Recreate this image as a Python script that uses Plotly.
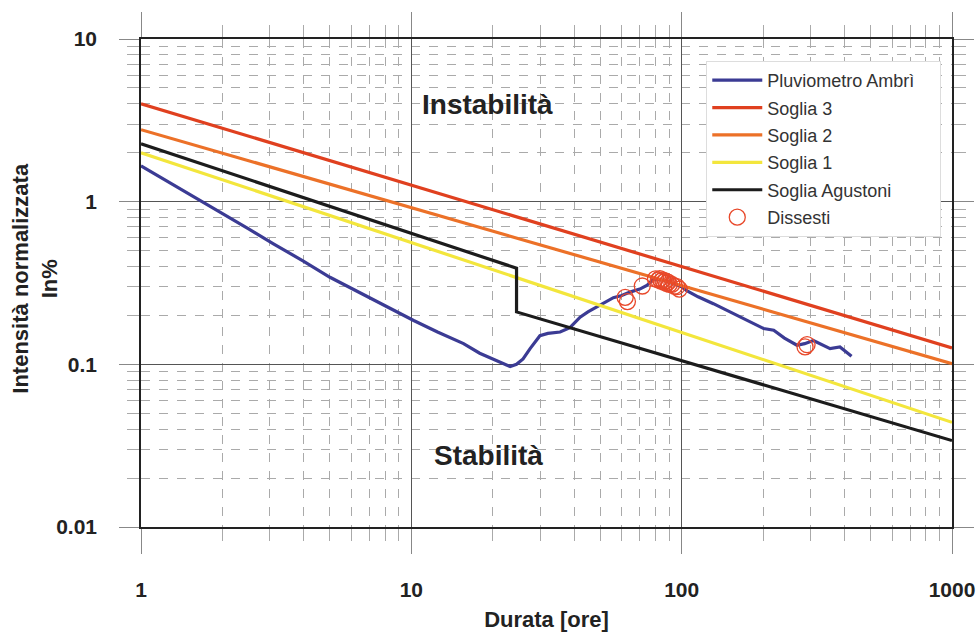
import plotly.graph_objects as go

# ---- data ----
pluvio_x = [1, 1.3, 1.6, 2.07, 2.5, 3.09, 4, 5, 6.5, 8, 10.2, 12.5, 15.6, 17.9, 20, 23.2,
            24.5, 25.9, 27.5, 29.9, 32, 35.5, 38.6, 42.1, 45, 48.5, 52, 55.9, 60, 64.4, 70,
            74.3, 78.6, 85, 92, 100, 104.4, 115, 131, 155, 180, 201, 219, 240, 267, 285,
            307, 330, 354, 385, 425]
pluvio_y = [1.66, 1.29, 1.05, 0.82, 0.68, 0.55, 0.43, 0.343, 0.273, 0.229, 0.186, 0.158,
            0.134, 0.117, 0.108, 0.097, 0.1, 0.108, 0.125, 0.15, 0.155, 0.158, 0.168, 0.195,
            0.21, 0.225, 0.24, 0.257, 0.265, 0.278, 0.29, 0.305, 0.335, 0.33, 0.315, 0.30,
            0.284, 0.26, 0.236, 0.205, 0.18, 0.166, 0.162, 0.145, 0.131, 0.134, 0.140,
            0.132, 0.125, 0.128, 0.112]

soglia3_x = [1, 1000]
soglia3_y = [4.0, 0.126]
soglia2_x = [1, 1000]
soglia2_y = [2.77, 0.101]
soglia1_x = [1, 1000]
soglia1_y = [2.0, 0.044]
agustoni_x = [1, 24.5, 24.5, 1000]
agustoni_y = [2.27, 0.39, 0.21, 0.034]

dissesti_x = [61.8, 63, 71.5, 80, 82, 83, 84, 85, 86, 87, 88, 89, 90, 92, 94, 96, 98, 286, 291]
dissesti_y = [0.258, 0.243, 0.303, 0.335, 0.33, 0.336, 0.325, 0.33, 0.32, 0.326, 0.315,
              0.32, 0.31, 0.31, 0.302, 0.30, 0.29, 0.128, 0.132]

x_ticks = [1, 10, 100, 1000]
x_tick_labels = ["1", "10", "100", "1000"]
y_ticks = [0.01, 0.1, 1, 10]
y_tick_labels = ["0.01", "0.1", "1", "10"]
x_minor = [m * d for d in (1, 10, 100) for m in range(2, 10)]
y_minor = [m * d for d in (0.01, 0.1, 1) for m in range(2, 10)]

FONT = "Liberation Sans, Arial, sans-serif"

fig = go.Figure()
lw = 3.2
fig.add_trace(go.Scatter(x=pluvio_x, y=pluvio_y, mode="lines",
                         name="Pluviometro Ambrì\u00a0\u00a0\u00a0\u00a0",
                         line=dict(color="#3b3b94", width=lw), legendgroup="a"))
fig.add_trace(go.Scatter(x=soglia3_x, y=soglia3_y, mode="lines", name="Soglia 3",
                         line=dict(color="#e0401f", width=lw), legendgroup="b"))
fig.add_trace(go.Scatter(x=soglia2_x, y=soglia2_y, mode="lines", name="Soglia 2",
                         line=dict(color="#ec7128", width=lw), legendgroup="c"))
fig.add_trace(go.Scatter(x=soglia1_x, y=soglia1_y, mode="lines", name="Soglia 1",
                         line=dict(color="#f3e63c", width=lw), legendgroup="d"))
fig.add_trace(go.Scatter(x=agustoni_x, y=agustoni_y, mode="lines", name="Soglia Agustoni",
                         line=dict(color="#1c1c1c", width=lw), legendgroup="e"))
fig.add_trace(go.Scatter(x=dissesti_x, y=dissesti_y, mode="markers", name="Dissesti",
                         marker=dict(symbol="circle-open", size=16, color="#e8482a",
                                     line=dict(width=1.3, color="#e8482a")),
                         legendgroup="f"))

TICKFONT = dict(family=FONT, size=21, color="#222", weight="bold")
axis_common = dict(
    type="log", automargin=False,
    showline=True, mirror="allticks", linecolor="#222", linewidth=1.5,
    showgrid=True, gridcolor="#555", gridwidth=1,
    ticks="outside", tickcolor="#888", tickwidth=1,
    tickfont=TICKFONT,
    zeroline=False,
)

fig.update_xaxes(**axis_common, range=[0, 3], tickvals=x_ticks, ticktext=x_tick_labels,
                 ticklen=25, ticklabelstandoff=18,
                 minor=dict(tickvals=x_minor, ticks="outside", ticklen=12, tickcolor="#aaa",
                            tickwidth=1, showgrid=True, gridcolor="#aaa", griddash="dash",
                            gridwidth=1),
                 title=dict(text="Durata [ore]", standoff=12,
                            font=dict(family=FONT, size=22, color="#222", weight="bold")))
fig.update_yaxes(**axis_common, range=[-2, 1], tickvals=y_ticks, ticktext=y_tick_labels,
                 ticklen=20, ticklabelstandoff=18,
                 minor=dict(tickvals=y_minor, ticks="outside", ticklen=12, tickcolor="#aaa",
                            tickwidth=1, showgrid=True, gridcolor="#aaa", griddash="dash",
                            gridwidth=1))

# y-axis title (two lines, rotated)
fig.add_annotation(text="Intensità normalizzata<br>In%", xref="paper", yref="paper",
                   x=-0.130, y=0.51, xanchor="center", yanchor="middle", textangle=-90,
                   showarrow=False,
                   font=dict(family=FONT, size=22, color="#222", weight="bold"))

fig.add_annotation(text="Instabilità", xref="paper", yref="paper", x=0.427, y=0.865,
                   xanchor="center", yanchor="middle", showarrow=False,
                   font=dict(family=FONT, size=28, color="#222", weight="bold"))
fig.add_annotation(text="Stabilità", xref="paper", yref="paper", x=0.429, y=0.1475,
                   xanchor="center", yanchor="middle", showarrow=False,
                   font=dict(family=FONT, size=28, color="#222", weight="bold"))

fig.update_layout(
    width=979, height=632,
    margin=dict(l=141, r=27, t=39, b=105),
    paper_bgcolor="white", plot_bgcolor="white",
    showlegend=True,
    legend=dict(x=0.697, y=0.955, xanchor="left", yanchor="top",
                bgcolor="white", bordercolor="#ddd", borderwidth=1,
                font=dict(family=FONT, size=18, color="#333"),
                tracegroupgap=1, traceorder="grouped", itemwidth=50),
)

fig.write_html("out.html", config={"displayModeBar": False},
               post_script="document.body.style.margin='0px';")
